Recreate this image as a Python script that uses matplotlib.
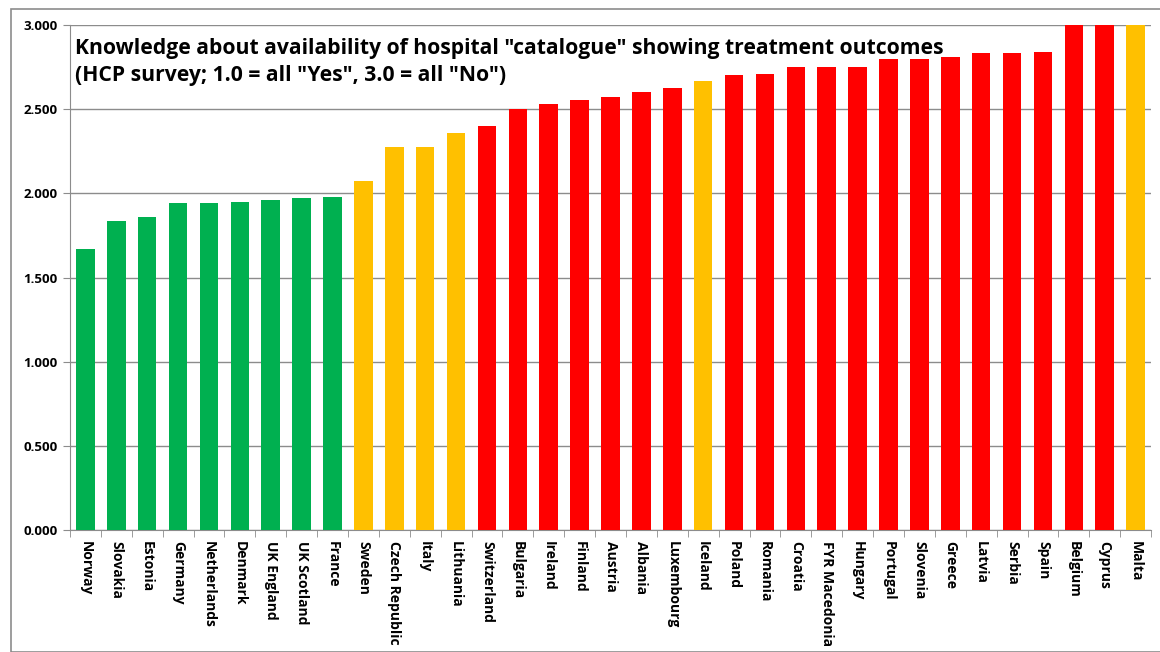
import matplotlib.pyplot as plt
from matplotlib.patches import Rectangle

countries = ["Norway", "Slovakia", "Estonia", "Germany", "Netherlands", "Denmark",
             "UK England", "UK Scotland", "France", "Sweden", "Czech Republic", "Italy",
             "Lithuania", "Switzerland", "Bulgaria", "Ireland", "Finland", "Austria",
             "Albania", "Luxembourg", "Iceland", "Poland", "Romania", "Croatia",
             "FYR Macedonia", "Hungary", "Portugal", "Slovenia", "Greece", "Latvia",
             "Serbia", "Spain", "Belgium", "Cyprus", "Malta"]
scores = [1.667, 1.833, 1.857, 1.944, 1.944, 1.950, 1.958, 1.971, 1.978, 2.071,
          2.273, 2.273, 2.357, 2.400, 2.500, 2.529, 2.556, 2.571, 2.600, 2.625,
          2.667, 2.700, 2.706, 2.750, 2.750, 2.750, 2.800, 2.800, 2.810, 2.833,
          2.833, 2.842, 3.000, 3.000, 3.000]
groups = ["g"] * 9 + ["y"] * 4 + ["r"] * 7 + ["y"] + ["r"] * 13 + ["y"]

palette = {"g": "#00B050", "y": "#FFC000", "r": "#FF0000"}
colors = [palette[g] for g in groups]

plt.rcParams['font.family'] = ['Open Sans', 'DejaVu Sans']

fig = plt.figure(figsize=(11.6, 6.52), dpi=100)
ax = fig.add_axes([0.0603, 0.187, 0.932, 0.7747])

x = range(len(countries))
ax.bar(x, scores, width=0.6, color=colors, zorder=3)

ax.set_ylim(0, 3.0)
ax.set_xlim(-0.5, len(countries) - 0.5)
yt = [0, 0.5, 1.0, 1.5, 2.0, 2.5, 3.0]
ax.set_yticks(yt)
ax.set_yticklabels(["%.3f" % v for v in yt], fontsize=9.5, fontweight='bold')
ax.yaxis.grid(True, color='#8c8c8c', linewidth=1, zorder=0)

ax.set_xticks(list(x))
ax.set_xticklabels(countries, rotation=270, fontsize=10, fontweight='bold',
                   va='top', ha='center')
ax.tick_params(axis='x', length=0, pad=8)
ax.set_xticks([i + 0.5 for i in range(-1, len(countries))], minor=True)
ax.tick_params(axis='x', which='minor', length=5, color='#8c8c8c', direction='out')
ax.tick_params(axis='y', length=5, color='#8c8c8c', direction='out', pad=4)

for s in ['top', 'right']:
    ax.spines[s].set_visible(False)
for s in ['left', 'bottom']:
    ax.spines[s].set_color('#8c8c8c')

ax.text(0.005, 0.975, 'Knowledge about availability of hospital "catalogue" showing treatment outcomes\n'
        '(HCP survey; 1.0 = all "Yes", 3.0 = all "No")',
        transform=ax.transAxes, fontsize=15.2, fontweight='bold', va='top', ha='left',
        linespacing=1.4, zorder=5)

fig.patches.append(Rectangle((11 / 1160, 0), 1.0, 1 - 9 / 652, transform=fig.transFigure,
                             fill=False, edgecolor='#8c8c8c', linewidth=1.2))

fig.savefig('out.png', dpi=100)
